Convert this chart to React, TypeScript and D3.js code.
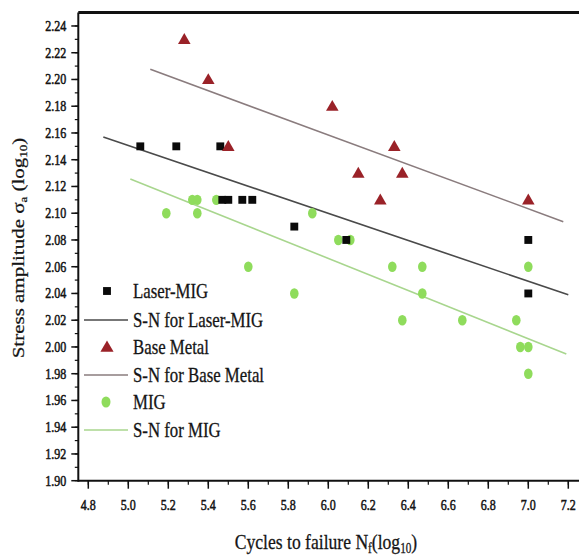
import React from "react";
import * as d3 from "d3";

// ---- data ----
const laserX = [5.06, 5.24, 5.46, 5.47, 5.50, 5.57, 5.62, 5.83, 6.09, 7.0, 7.0];
const laserY = [2.15, 2.15, 2.15, 2.11, 2.11, 2.11, 2.11, 2.09, 2.08, 2.08, 2.04];

const baseX = [5.28, 5.40, 5.50, 6.02, 6.33, 6.15, 6.37, 6.26, 7.0];
const baseY = [2.23, 2.20, 2.15, 2.18, 2.15, 2.13, 2.13, 2.11, 2.11];

const migX = [5.19, 5.32, 5.345, 5.345, 5.44, 5.60, 5.83, 5.92, 6.05, 6.11, 6.32, 6.47, 6.47, 6.37, 6.67, 6.94, 6.96, 7.0, 7.0, 7.0];
const migY = [2.10, 2.11, 2.11, 2.10, 2.11, 2.06, 2.04, 2.10, 2.08, 2.08, 2.06, 2.06, 2.04, 2.02, 2.02, 2.02, 2.00, 2.00, 1.98, 2.06];

const snLaserX = [4.875, 7.2];
const snLaserY = [2.157, 2.039];
const snBaseX = [5.11, 7.175];
const snBaseY = [2.2076, 2.0937];
const snMigX = [5.01, 7.19];
const snMigY = [2.1256, 1.9948];

const xTicks = [4.8, 5.0, 5.2, 5.4, 5.6, 5.8, 6.0, 6.2, 6.4, 6.6, 6.8, 7.0, 7.2];
const yTicks = [1.90, 1.92, 1.94, 1.96, 1.98, 2.00, 2.02, 2.04, 2.06, 2.08, 2.10, 2.12, 2.14, 2.16, 2.18, 2.20, 2.22, 2.24];

const legendLabels = ["Laser-MIG", "S-N for Laser-MIG", "Base Metal", "S-N for Base Metal", "MIG", "S-N for MIG"];

// ---- styles ----
const W = 579, H = 555;
const FONT = "'Liberation Serif', 'Times New Roman', serif";
const SX = 0.8;
const cBlack = "#0a0a0a";
const cRed = "#9a2228";
const cGreen = "#8fdc5c";
const cLaserLine = "#4a4a4a";
const cBaseLine = "#8a7c7e";
const cMigLine = "#a8d68e";
const cText = "#151515";

export default function App() {
  const x = d3.scaleLinear().domain([4.75, 7.25]).range([78.3, 578.3]);
  const y = d3.scaleLinear().domain([1.9, 2.25]).range([480.7, 12.6]);
  const left = x(4.75), right = x(7.25), top = y(2.25), bottom = y(1.9);

  const line = d3.line<[number, number]>().x(d => x(d[0])).y(d => y(d[1]));
  const pts = (xs: number[], ys: number[]) => xs.map((v, i) => [v, ys[i]] as [number, number]);

  const sq = d3.symbol().type(d3.symbolSquare).size(62)()!;
  const tri = d3.symbol().type(d3.symbolTriangle).size(62)()!;

  const xMinor = d3.range(0, 25).map(i => 4.8 + i * 0.1).filter(v => v <= 7.25);
  const yMinor = d3.range(0, 35).map(i => 1.9 + i * 0.01);

  const fx = d3.format(".1f");
  const fy = d3.format(".2f");

  const legY = [291, 320, 347, 375, 402, 430];
  const legSymX = 107;
  const legTextX = 133;

  const txt = (tx: number, ty: number, s: React.ReactNode, size: number, anchor = "start", key?: any, sw = 0.45) => (
    <text key={key} transform={`translate(${tx},${ty}) scale(${SX},1)`} fontSize={size} fontFamily={FONT} textAnchor={anchor} fill={cText} stroke={cText} strokeWidth={sw}>{s}</text>
  );

  return (
    <svg width={W} height={H} style={{ position: "absolute", left: 0, top: 0, background: "#fff" }}>
      <rect x={0} y={0} width={W} height={H} fill="#fff" />
      {/* S-N lines */}
      <path d={line(pts(snLaserX, snLaserY))!} stroke={cLaserLine} strokeWidth={1.6} fill="none" />
      <path d={line(pts(snBaseX, snBaseY))!} stroke={cBaseLine} strokeWidth={1.6} fill="none" />
      <path d={line(pts(snMigX, snMigY))!} stroke={cMigLine} strokeWidth={1.6} fill="none" />

      {/* MIG */}
      {migX.map((v, i) => (
        <ellipse key={"m" + i} cx={x(v)} cy={y(migY[i])} rx={4.3} ry={5.2} fill={cGreen} />
      ))}
      {/* Laser-MIG */}
      {laserX.map((v, i) => (
        <path key={"l" + i} d={sq} transform={`translate(${x(v)},${y(laserY[i])})`} fill={cBlack} />
      ))}
      {/* Base metal */}
      {baseX.map((v, i) => (
        <path key={"b" + i} d={tri} transform={`translate(${x(v)},${y(baseY[i]) + 1}) scale(1.05,1.05)`} fill={cRed} />
      ))}

      {/* axes */}
      <line x1={left} x2={right + 1} y1={top} y2={top} stroke="#111" strokeWidth={3} />
      <line x1={left} x2={left} y1={top} y2={bottom + 1} stroke="#111" strokeWidth={2} />
      <line x1={left} x2={right + 1} y1={bottom} y2={bottom} stroke="#111" strokeWidth={2} />

      {yTicks.map(v => (
        <line key={"yt" + v} x1={left - 7} x2={left} y1={y(v)} y2={y(v)} stroke="#111" strokeWidth={1.5} />
      ))}
      {yMinor.map((v, i) => (
        <line key={"ym" + i} x1={left - 3.5} x2={left} y1={y(v)} y2={y(v)} stroke="#111" strokeWidth={1.2} />
      ))}
      {xTicks.map(v => (
        <line key={"xt" + v} x1={x(v)} x2={x(v)} y1={bottom} y2={bottom + 8} stroke="#111" strokeWidth={1.5} />
      ))}
      {xMinor.map((v, i) => (
        <line key={"xm" + i} x1={x(v)} x2={x(v)} y1={bottom} y2={bottom + 4} stroke="#111" strokeWidth={1.2} />
      ))}

      {yTicks.map(v => txt(left - 12, y(v) + 5, fy(v), 15, "end", "yl" + v, 0.55))}
      {xTicks.map(v => txt(x(v), 510, fx(v), 15, "middle", "xl" + v, 0.55))}

      {/* axis titles */}
      {txt(326, 549, (
        <>Cycles to failure N<tspan fontSize={14} dy={4}>f</tspan><tspan dy={-4}>(log</tspan><tspan fontSize={14} dy={4}>10</tspan><tspan dy={-4}>)</tspan></>
      ), 22, "middle", "xtitle", 0.3)}
      <text transform={`translate(24,248) rotate(-90) scale(1,${SX})`} fontSize={21} fontFamily={FONT} textAnchor="middle" fill={cText} stroke={cText} strokeWidth={0.3}>
        Stress amplitude σ<tspan fontSize={13} dy={4}>a</tspan><tspan dy={-4}> (log</tspan><tspan fontSize={13} dy={4}>10</tspan><tspan dy={-4}>)</tspan>
      </text>

      {/* legend */}
      <path d={sq} transform={`translate(${legSymX},${legY[0]})`} fill={cBlack} />
      <line x1={84} x2={128} y1={legY[1]} y2={legY[1]} stroke={cLaserLine} strokeWidth={1.6} />
      <path d={tri} transform={`translate(${legSymX},${legY[2] + 1}) scale(1.1,1.1)`} fill={cRed} />
      <line x1={84} x2={128} y1={legY[3]} y2={legY[3]} stroke={cBaseLine} strokeWidth={1.6} />
      <ellipse cx={legSymX - 1} cy={legY[4]} rx={4.5} ry={5.5} fill={cGreen} />
      <line x1={84} x2={128} y1={legY[5]} y2={legY[5]} stroke={cMigLine} strokeWidth={1.6} />
      {legendLabels.map((s, i) => txt(legTextX, legY[i] + 7, s, 21, "start", "lg" + i, 0.3))}
    </svg>
  );
}
